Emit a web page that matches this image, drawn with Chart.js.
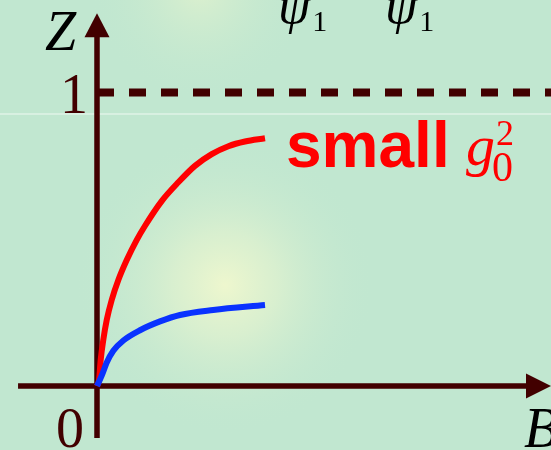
<!DOCTYPE html>
<html>
<head>
<meta charset="utf-8">
<script src="https://cdn.jsdelivr.net/npm/chart.js@4.4.1/dist/chart.umd.min.js"></script>
<style>
  html, body { margin: 0; padding: 0; background: #c1e7d0; }
  canvas { display: block; }
</style>
</head>
<body>
<canvas id="flow" width="551" height="450"></canvas>
<script>
// curve samples, B along x, Z up the y axis
const redB  = [0, 0.012, 0.022, 0.0375, 0.058, 0.0875, 0.127, 0.177, 0.236, 0.286, 0.385, 0.484, 0.583, 0.683, 0.782, 0.881, 1.0];
const redZ  = [0, 0.020, 0.089, 0.157, 0.225, 0.293, 0.361, 0.429, 0.497, 0.546, 0.630, 0.694, 0.750, 0.790, 0.817, 0.833, 0.844];
const blueB = [0, 0.028, 0.058, 0.097, 0.157, 0.256, 0.375, 0.494, 0.692, 1.0];
const blueZ = [0, 0.035, 0.080, 0.120, 0.155, 0.190, 0.220, 0.242, 0.259, 0.276];
const fixedPointZ = 1;
const tickLabels = ['0', '1'];

const AXIS = '#420000';

const pts = (xs, ys) => xs.map((x, i) => ({ x: x, y: ys[i] }));

// soft glows + thin light streak behind everything
const backdrop = {
  id: 'backdrop',
  beforeDraw(chart) {
    const c = chart.ctx;
    const w = chart.width, h = chart.height;
    c.save();
    c.fillStyle = '#c1e7d0';
    c.fillRect(0, 0, w, h);
    let g = c.createRadialGradient(225, 285, 0, 225, 285, 150);
    g.addColorStop(0, 'rgba(238,247,206,1)');
    g.addColorStop(0.35, 'rgba(222,241,207,0.8)');
    g.addColorStop(1, 'rgba(193,231,208,0)');
    c.fillStyle = g;
    c.fillRect(0, 0, w, h);
    g = c.createRadialGradient(200, -10, 0, 200, -10, 110);
    g.addColorStop(0, 'rgba(222,241,206,0.9)');
    g.addColorStop(1, 'rgba(193,231,208,0)');
    c.fillStyle = g;
    c.fillRect(0, 0, w, h);
    c.fillStyle = 'rgba(218,241,226,0.9)';
    c.fillRect(0, 113, w, 2);
    c.restore();
  }
};

// arrowed axes through the origin
const arrowAxes = {
  id: 'arrowAxes',
  beforeDatasetsDraw(chart) {
    const c = chart.ctx;
    const xs = chart.scales.x, ys = chart.scales.y;
    const ox = xs.getPixelForValue(0), oy = ys.getPixelForValue(0);
    const left = xs.getPixelForValue(-0.47), right = chart.chartArea.right;
    const bottom = ys.getPixelForValue(-0.177), top = ys.getPixelForValue(1.27);
    c.save();
    c.strokeStyle = AXIS;
    c.fillStyle = AXIS;
    c.lineWidth = 5.5;
    c.beginPath();
    c.moveTo(left, oy); c.lineTo(right - 20, oy);
    c.moveTo(ox, bottom); c.lineTo(ox, top + 20);
    c.stroke();
    c.beginPath();
    c.moveTo(right, oy); c.lineTo(right - 25, oy - 12.5); c.lineTo(right - 25, oy + 12.5);
    c.closePath(); c.fill();
    c.beginPath();
    c.moveTo(ox, top); c.lineTo(ox - 12.5, top + 24); c.lineTo(ox + 12.5, top + 24);
    c.closePath(); c.fill();
    c.restore();
  },
  afterDraw(chart) {
    const c = chart.ctx;
    const xs = chart.scales.x, ys = chart.scales.y;
    const ox = xs.getPixelForValue(0), oy = ys.getPixelForValue(0);
    const y1 = ys.getPixelForValue(fixedPointZ);
    c.save();
    c.textBaseline = 'alphabetic';
    c.textAlign = 'left';
    // tick labels
    c.fillStyle = AXIS;
    c.font = '56px "Liberation Serif", serif';
    c.fillText(tickLabels[1], ox - 37, y1 + 20);
    c.fillText(tickLabels[0], ox - 41, oy + 61);
    // axis names
    c.fillStyle = '#000';
    c.font = 'italic 56px "Liberation Serif", serif';
    c.fillText('Z', ox - 52, 50);
    c.fillText('B', chart.chartArea.right - 27, 447);
    // psi_1 pair
    const psi = (x) => {
      c.font = 'italic 52px "Liberation Serif", serif';
      c.fillText('\u03C8', x, 23);
      const w = c.measureText('\u03C8').width;
      c.font = '30px "Liberation Serif", serif';
      c.fillText('1', x + w + 2, 31);
    };
    psi(278);
    psi(385);
    // label of the red curve
    c.fillStyle = '#ff0000';
    c.font = 'bold 64px "Liberation Sans", Arial, sans-serif';
    c.fillText('small', 286, 167);
    c.font = 'italic 58px "Liberation Serif", serif';
    c.fillText('g', 466, 165);
    c.font = '42px "Liberation Serif", serif';
    c.fillText('0', 492, 181);
    c.font = '36px "Liberation Serif", serif';
    c.fillText('2', 496, 145);
    c.restore();
  }
};

new Chart(document.getElementById('flow'), {
  type: 'line',
  data: {
    datasets: [
      {
        data: [{ x: 0, y: fixedPointZ }, { x: 2.71, y: fixedPointZ }],
        borderColor: AXIS,
        borderWidth: 8,
        borderDash: [17, 15],
        borderCapStyle: 'butt',
        pointRadius: 0
      },
      {
        data: pts(blueB, blueZ),
        borderColor: '#0a32ff',
        borderWidth: 6,
        cubicInterpolationMode: 'monotone',
        borderCapStyle: 'butt',
        pointRadius: 0
      },
      {
        data: pts(redB, redZ),
        borderColor: '#ff0000',
        borderWidth: 6,
        cubicInterpolationMode: 'monotone',
        borderCapStyle: 'butt',
        pointRadius: 0
      }
    ]
  },
  options: {
    responsive: false,
    animation: false,
    events: [],
    layout: { padding: 0 },
    plugins: { legend: { display: false }, tooltip: { enabled: false } },
    scales: {
      x: { type: 'linear', display: false, min: -0.5774, max: 2.7024 },
      y: { type: 'linear', display: false, min: -0.2181, max: 1.3152 }
    }
  },
  plugins: [backdrop, arrowAxes]
});
</script>
</body>
</html>
